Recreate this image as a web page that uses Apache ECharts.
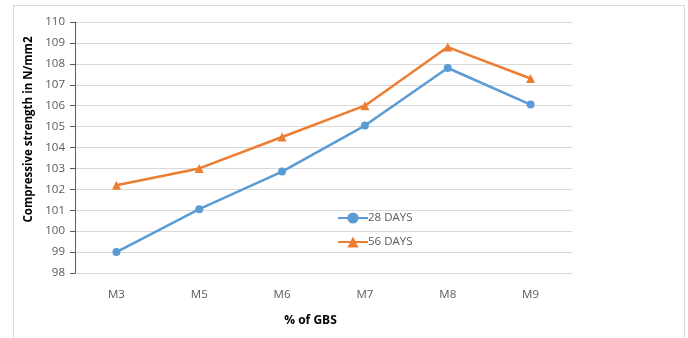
<!DOCTYPE html>
<html>
<head>
<meta charset="utf-8">
<script src="https://cdn.jsdelivr.net/npm/echarts@6/dist/echarts.min.js"></script>
<style>
  html, body { margin: 0; padding: 0; background: #fff; }
  #frame { position: absolute; left: 13px; top: 5px; width: 672px; height: 340px; border: 1px solid #d9d9d9; box-sizing: border-box; }
  #chart { position: absolute; left: 0; top: 0; width: 688px; height: 338px; }
</style>
</head>
<body>
<div id="frame"></div>
<div id="chart"></div>
<script>
// mixes and compressive strength (N/mm2)
const categories = ['M3', 'M5', 'M6', 'M7', 'M8', 'M9']
const days28 = [99.0, 101.05, 102.85, 105.05, 107.8, 106.05]
const days56 = [102.2, 103.0, 104.5, 106.0, 108.8, 107.3]
const yMin = 98
const yMax = 110

const FONT = '"Open Sans", "Liberation Sans", sans-serif'
const BLUE = '#5b9bd5'
const ORANGE = '#ed7d31'

const chart = echarts.init(document.getElementById('chart'), null, { renderer: 'canvas' })

chart.setOption({
  animation: false,
  backgroundColor: 'transparent',
  textStyle: { fontFamily: FONT },
  grid: { left: 75, right: 116, top: 22, bottom: 65, containLabel: false },
  legend: {
    orient: 'vertical',
    left: 332,
    top: 207,
    itemGap: 12,
    itemWidth: 30,
    itemHeight: 14,
    textStyle: { color: '#595959', fontSize: 11.5, fontFamily: FONT, padding: [0, 0, 0, -5] },
    data: ['28 DAYS', '56 DAYS'],
  },
  xAxis: {
    type: 'category',
    data: categories,
    boundaryGap: true,
    name: '% of GBS',
    nameLocation: 'middle',
    nameGap: 42,
    nameTextStyle: { color: '#000', fontSize: 12, fontWeight: 'bold', fontFamily: FONT, padding: [0, 26, 0, 0] },
    axisLine: { show: false },
    axisTick: { show: false },
    axisLabel: { color: '#595959', fontSize: 11.5, margin: 16 },
  },
  yAxis: {
    type: 'value',
    min: yMin,
    max: yMax,
    interval: 1,
    name: 'Compressive strength in N/mm2',
    nameLocation: 'middle',
    nameGap: 38,
    nameTextStyle: { color: '#000', fontSize: 11.5, fontWeight: 'bold', fontFamily: FONT, padding: [0, 0, 0, 36] },
    axisLine: { show: true, lineStyle: { color: '#595959', width: 1 } },
    axisTick: { show: true, inside: false, length: 5, lineStyle: { color: '#595959' } },
    axisLabel: { color: '#595959', fontSize: 11.5, margin: 10 },
    splitLine: { lineStyle: { color: '#d9d9d9', width: 1 } },
  },
  series: [
    {
      name: '28 DAYS',
      type: 'line',
      data: days28,
      symbol: 'circle',
      symbolSize: 8,
      itemStyle: { color: BLUE },
      lineStyle: { color: BLUE, width: 2.5 },
    },
    {
      name: '56 DAYS',
      type: 'line',
      data: days56,
      symbol: 'triangle',
      symbolSize: 9,
      itemStyle: { color: ORANGE },
      lineStyle: { color: ORANGE, width: 2.5 },
    },
  ],
})
</script>
</body>
</html>
